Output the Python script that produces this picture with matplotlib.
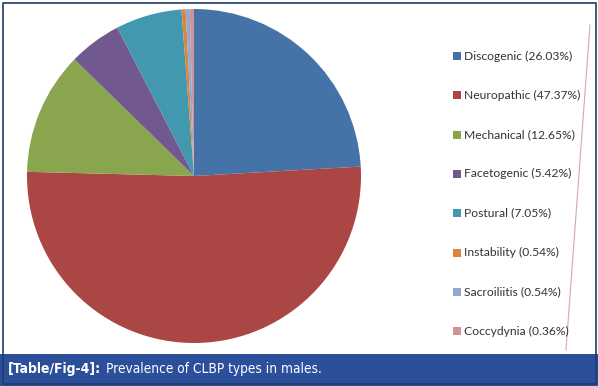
import matplotlib
matplotlib.use("Agg")
import matplotlib.pyplot as plt
from matplotlib.patches import Rectangle
from matplotlib.lines import Line2D

# Data
categories = ["Discogenic", "Neuropathic", "Mechanical", "Facetogenic",
              "Postural", "Instability", "Sacroiliitis", "Coccydynia"]
legend_pct = ["26.03%", "47.37%", "12.65%", "5.42%", "7.05%", "0.54%", "0.54%", "0.36%"]
# slice sizes as drawn in the picture (percent)
slice_values = [24.1, 51.3, 11.9, 5.1, 6.4, 0.4, 0.4, 0.4]
colors = ["#4572A7", "#AA4643", "#89A54E", "#71588F", "#4198AF",
          "#DB843D", "#93A9CF", "#D19392"]
caption_bold = "[Table/Fig-4]:"
caption_text = "Prevalence of CLBP types in males."

W, H = 598, 386
fig = plt.figure(figsize=(W / 100, H / 100), dpi=100)
fig.patch.set_facecolor("white")

def fx(x):
    return x / W

def fy(y):
    return 1 - y / H

# pie axes
cx, cy, r = 194, 176, 167
ax = fig.add_axes([fx(cx - r), fy(cy + r), 2 * r / W, 2 * r / H])
ax.pie(slice_values, colors=colors, startangle=90, counterclock=False,
       radius=1, wedgeprops=dict(linewidth=0))
ax.set_xlim(-1, 1)
ax.set_ylim(-1, 1)
ax.set_aspect("equal")
ax.axis("off")

# legend
font_leg = ["Lato", "DejaVu Sans"]
y0, dy = 56, 39.3
for i, (cat, pct) in enumerate(zip(categories, legend_pct)):
    y = y0 + i * dy
    fig.patches.append(Rectangle((fx(453), fy(y + 4)), 8 / W, 8 / H,
                                 transform=fig.transFigure, facecolor=colors[i],
                                 edgecolor="none"))
    fig.text(fx(464), fy(y), f"{cat} ({pct})", fontsize=8.7, family=font_leg,
             color="#333333", va="center", ha="left")

# diagonal streak
fig.lines.append(Line2D([fx(590), fx(566)], [fy(25), fy(350)],
                        transform=fig.transFigure, color="#d8a4b8", lw=0.8))

# caption bar
fig.patches.append(Rectangle((0, 0), 1, fy(354), transform=fig.transFigure,
                             facecolor="#2B4F9A", edgecolor="none"))
# frame
fig.patches.append(Rectangle((fx(2.5), fy(383.5)), (W - 5) / W, (H - 5) / H,
                             transform=fig.transFigure, facecolor="none",
                             edgecolor="#1F3B6E", lw=1.2))

cap_font = ["DejaVu Sans"]
t1 = fig.text(fx(8), fy(369), caption_bold, fontsize=10, family=cap_font,
              stretch="condensed", weight="bold", color="white",
              va="center", ha="left")
fig.canvas.draw()
bb = t1.get_window_extent()
fig.text(bb.x1 / W + fx(5), fy(369), caption_text, fontsize=9.8, family=cap_font,
         stretch="condensed", color="white", va="center", ha="left")

fig.savefig("out.png", dpi=100)
